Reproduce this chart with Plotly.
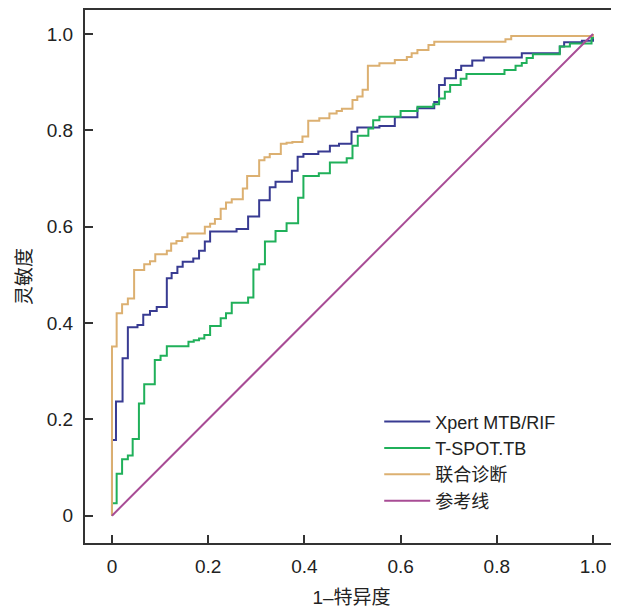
import plotly.graph_objects as go

# ROC curve vertices (1-specificity, sensitivity), step shape "hv"
xpert_x = [0, 0, 0.0083, 0.022, 0.033, 0.053, 0.065, 0.079, 0.093, 0.114, 0.124, 0.136, 0.147, 0.169,
           0.181, 0.193, 0.204, 0.259, 0.283, 0.306, 0.328, 0.340, 0.374, 0.386, 0.398, 0.429, 0.453,
           0.472, 0.498, 0.510, 0.556, 0.588, 0.635, 0.670, 0.680, 0.692, 0.715, 0.726, 0.749, 0.773,
           0.852, 0.931, 0.940, 0.977, 1.0]
xpert_y = [0, 0.157, 0.237, 0.327, 0.391, 0.396, 0.417, 0.425, 0.433, 0.493, 0.504, 0.517, 0.527, 0.534,
           0.550, 0.569, 0.590, 0.595, 0.621, 0.655, 0.682, 0.693, 0.716, 0.745, 0.751, 0.756, 0.768,
           0.772, 0.797, 0.806, 0.809, 0.827, 0.846, 0.859, 0.894, 0.908, 0.925, 0.934, 0.945, 0.951,
           0.960, 0.974, 0.983, 0.986, 1.0]

tspot_x = [0, 0, 0.0097, 0.021, 0.033, 0.043, 0.056, 0.067, 0.089, 0.101, 0.114, 0.159, 0.170, 0.181,
           0.192, 0.204, 0.226, 0.237, 0.249, 0.283, 0.294, 0.306, 0.318, 0.340, 0.363, 0.387, 0.398,
           0.430, 0.453, 0.488, 0.500, 0.511, 0.533, 0.543, 0.556, 0.600, 0.635, 0.668, 0.680, 0.692,
           0.703, 0.725, 0.737, 0.816, 0.839, 0.852, 0.862, 0.875, 0.931, 0.952, 0.997, 1.0]
tspot_y = [0, 0.026, 0.087, 0.117, 0.125, 0.159, 0.233, 0.273, 0.323, 0.332, 0.352, 0.361, 0.364, 0.368,
           0.375, 0.394, 0.410, 0.420, 0.442, 0.453, 0.511, 0.522, 0.569, 0.591, 0.607, 0.660, 0.705,
           0.711, 0.733, 0.742, 0.768, 0.789, 0.804, 0.821, 0.828, 0.840, 0.849, 0.854, 0.866, 0.880,
           0.894, 0.907, 0.917, 0.925, 0.934, 0.940, 0.950, 0.958, 0.974, 0.980, 0.992, 1.0]

combo_x = [0, 0, 0.0097, 0.021, 0.033, 0.046, 0.067, 0.079, 0.090, 0.114, 0.123, 0.134, 0.146, 0.157,
           0.193, 0.204, 0.214, 0.226, 0.237, 0.249, 0.272, 0.281, 0.306, 0.317, 0.328, 0.351, 0.363,
           0.375, 0.396, 0.408, 0.431, 0.452, 0.467, 0.478, 0.500, 0.510, 0.521, 0.532, 0.556, 0.588,
           0.613, 0.623, 0.635, 0.658, 0.670, 0.818, 0.830, 1.0]
combo_y = [0, 0.351, 0.420, 0.439, 0.451, 0.510, 0.522, 0.528, 0.543, 0.550, 0.565, 0.570, 0.578, 0.586,
           0.600, 0.606, 0.616, 0.637, 0.650, 0.657, 0.679, 0.705, 0.738, 0.744, 0.751, 0.772, 0.774,
           0.776, 0.787, 0.820, 0.825, 0.835, 0.840, 0.845, 0.863, 0.870, 0.884, 0.934, 0.939, 0.946,
           0.952, 0.960, 0.967, 0.977, 0.984, 0.989, 0.996, 1.0]

ref_x = [0, 1]
ref_y = [0, 1]

tick_vals = [0, 0.2, 0.4, 0.6, 0.8, 1.0]
tick_text = ["0", "0.2", "0.4", "0.6", "0.8", "1.0"]

names = ["Xpert MTB/RIF", "T-SPOT.TB", "联合诊断", "参考线"]
colors = ["#383b92", "#20b05a", "#dcb071", "#a84c95"]

FONT = "Liberation Sans, Arial, Noto Sans CJK SC, sans-serif"

fig = go.Figure()
series = [(xpert_x, xpert_y, "hv"), (tspot_x, tspot_y, "hv"), (combo_x, combo_y, "hv"), (ref_x, ref_y, "linear")]
for i, (xs, ys, shp) in enumerate(series):
    fig.add_trace(go.Scatter(x=xs, y=ys, mode="lines", name=names[i],
                             line=dict(color=colors[i], width=2, shape=shp)))

fig.update_layout(
    width=611, height=600,
    margin=dict(l=77, r=1, t=2, b=65),
    paper_bgcolor="white", plot_bgcolor="white",
    font=dict(family=FONT, size=19, color="#222"),
    showlegend=True,
    legend=dict(x=0.552, y=0.262, xanchor="left", yanchor="top", bgcolor="rgba(0,0,0,0)",
                font=dict(size=18, color="#222"), tracegroupgap=0, itemwidth=46),
    shapes=[dict(type="line", xref="paper", yref="paper", x0=1, x1=1, y0=0, y1=1,
                 line=dict(color="#8a8a8a", width=1.5))],
)
fig.update_xaxes(range=[-0.0561, 1.052], tickvals=tick_vals, ticktext=tick_text,
                 ticks="inside", ticklen=8, tickwidth=1.5, tickcolor="#333",
                 showline=True, linecolor="#333", linewidth=2, mirror=True,
                 showgrid=False, zeroline=False, ticklabelstandoff=5,
                 title=dict(text="1–特异度", font=dict(size=19), standoff=15))
fig.update_yaxes(range=[-0.0567, 1.0498], tickvals=tick_vals, ticktext=tick_text,
                 ticks="inside", ticklen=8, tickwidth=1.5, tickcolor="#333",
                 showline=True, linecolor="#333", linewidth=2, mirror=False,
                 showgrid=False, zeroline=False, ticklabelstandoff=6,
                 title=dict(text="灵敏度", font=dict(size=19), standoff=10))

fig.write_html("out.html")
